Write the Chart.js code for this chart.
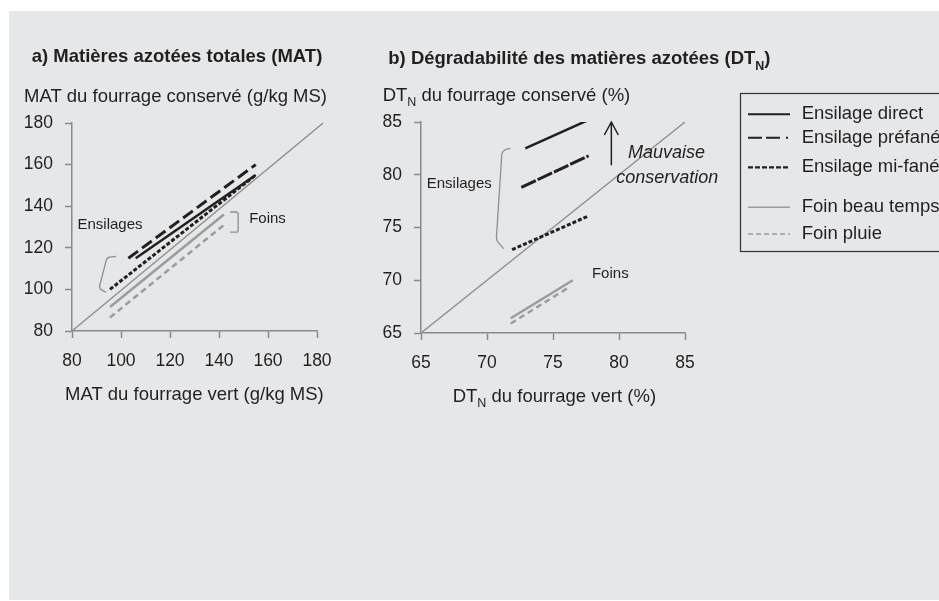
<!DOCTYPE html>
<html lang="fr">
<head>
<meta charset="utf-8">
<title>MAT et DTN des fourrages conservés</title>
<script src="https://cdn.jsdelivr.net/npm/chart.js@4.4.0/dist/chart.umd.min.js"></script>
<style>
  html, body { margin: 0; padding: 0; background: #fff; overflow: hidden; }
  #fond { position: absolute; left: 9px; top: 11px; width: 930px; height: 589px; background: #e6e7e8; }
  canvas { position: absolute; left: 0; top: 0; }
</style>
</head>
<body>
<div id="fond"></div>
<canvas id="graphA" width="939" height="601"></canvas>
<canvas id="graphB" width="939" height="601"></canvas>
<script>
// Données : chaque droite = [début, fin]
const noms = ['Ensilage direct', 'Ensilage préfané', 'Ensilage mi-fané', 'Foin beau temps', 'Foin pluie'];

// a) MAT (g/kg MS)
const matVert     = [[106, 155], [103, 155], [95.5, 155], [95.5, 142], [95.5, 142]];
const matConserve = [[115, 155], [115, 160], [100, 155], [91.5, 136], [86.5, 131]];
const matDiagX = [80, 182.5];
const matDiagY = [80, 180];
const matTicks = [80, 100, 120, 140, 160, 180];

// b) DTN (%)
const dtnVert     = [[72.9, 77.7], [72.6, 77.7], [71.9, 77.7], [71.8, 76.5], [71.8, 76.3]];
const dtnConserve = [[82.5, 85.2], [78.8, 81.8], [72.9, 76.1], [66.4, 70.0], [65.9, 69.4]];
const dtnDiagX = [65, 85];
const dtnDiagY = [65, 85];
const dtnTicks = [65, 70, 75, 80, 85];

const police = "'Liberation Sans', Arial, sans-serif";
const noir = '#231f20';
const grisAxe = '#8a8a8a';
const grisFoin = '#9c9c9c';

const styles = [
  { couleur: noir, largeur: 2.5, tirets: [] },
  { couleur: noir, largeur: 3, tirets: [12, 5] },
  { couleur: noir, largeur: 3, tirets: [4, 2] },
  { couleur: grisFoin, largeur: 2.5, tirets: [] },
  { couleur: grisFoin, largeur: 2.5, tirets: [6, 4] }
];

function jeuxDeDonnees(xs, ys, diagX, diagY, tiretsPrefane) {
  const jeux = noms.map((nom, i) => ({
    label: nom,
    data: xs[i].map((x, k) => ({ x: x, y: ys[i][k] })),
    showLine: true,
    pointRadius: 0,
    borderColor: styles[i].couleur,
    borderWidth: styles[i].largeur,
    borderDash: (i === 1 && tiretsPrefane) ? tiretsPrefane : styles[i].tirets,
    borderCapStyle: 'butt'
  }));
  // droite 1:1
  jeux.push({
    label: '1:1',
    data: diagX.map((x, k) => ({ x: x, y: diagY[k] })),
    showLine: true,
    pointRadius: 0,
    borderColor: '#8f8f8f',
    borderWidth: 1.5,
    clip: false
  });
  return jeux;
}

function axes(valeurs, largeurY) {
  const base = () => ({
    type: 'linear',
    min: valeurs[0],
    max: valeurs[valeurs.length - 1],
    grid: { drawOnChartArea: false, drawTicks: true, tickLength: 7, tickColor: grisAxe, tickWidth: 1.5 },
    border: { color: grisAxe, width: 1.5 },
    afterBuildTicks: s => { s.ticks = valeurs.map(v => ({ value: v })); }
  });
  const x = base();
  x.ticks = { color: noir, font: { family: police, size: 17.5 }, padding: 13, maxRotation: 0 };
  x.afterFit = s => { s.height = 50; };
  const y = base();
  y.ticks = { color: noir, font: { family: police, size: 17.5 }, padding: 12 };
  y.afterFit = s => { s.width = largeurY; };
  return { x: x, y: y };
}

// écrit une suite de morceaux [texte, police, décalage vertical] (pour les indices)
function ecrire(ctx, morceaux, x, y) {
  ctx.textAlign = 'left';
  ctx.textBaseline = 'alphabetic';
  ctx.fillStyle = noir;
  for (const [t, f, dy] of morceaux) {
    ctx.font = f + ' ' + police;
    ctx.fillText(t, x, y + (dy || 0));
    x += ctx.measureText(t).width;
  }
}

function centre(ctx, t, f, x, y) {
  ctx.font = f + ' ' + police;
  ctx.textAlign = 'center';
  ctx.textBaseline = 'middle';
  ctx.fillStyle = noir;
  ctx.fillText(t, x, y);
}

function accolade(ctx, pts, r) {
  ctx.beginPath();
  ctx.moveTo(pts[0][0], pts[0][1]);
  for (let i = 1; i < pts.length - 1; i++) {
    ctx.arcTo(pts[i][0], pts[i][1], pts[i + 1][0], pts[i + 1][1], r);
  }
  ctx.lineTo(pts[pts.length - 1][0], pts[pts.length - 1][1]);
  ctx.setLineDash([]);
  ctx.strokeStyle = '#8f8f8f';
  ctx.lineWidth = 1.3;
  ctx.stroke();
}

const annotA = {
  id: 'annotA',
  afterDraw(chart) {
    const ctx = chart.ctx;
    const X = v => chart.scales.x.getPixelForValue(v);
    const Y = v => chart.scales.y.getPixelForValue(v);
    ctx.save();
    ecrire(ctx, [['a) Matières azotées totales (MAT)', 'bold 18.5px']], 31.7, 61.7);
    ecrire(ctx, [['MAT du fourrage conservé (g/kg MS)', '18.5px']], 24, 101.7);
    ecrire(ctx, [['MAT du fourrage vert (g/kg MS)', '18.5px']], 65, 400);
    accolade(ctx, [[X(98), Y(115.9)], [X(94.3), Y(115.4)], [X(91), Y(100.5)], [X(93.9), Y(98.6)]], 4);
    accolade(ctx, [[X(144.5), Y(137.2)], [X(147.8), Y(137.2)], [X(147.8), Y(127.5)], [X(144.5), Y(127.5)]], 2);
    centre(ctx, 'Ensilages', '15px', X(95.5), Y(130.8));
    centre(ctx, 'Foins', '15px', X(159.8), Y(133.7));
    ctx.restore();
  }
};

const annotB = {
  id: 'annotB',
  afterDraw(chart) {
    const ctx = chart.ctx;
    const X = v => chart.scales.x.getPixelForValue(v);
    const Y = v => chart.scales.y.getPixelForValue(v);
    ctx.save();
    ecrire(ctx, [['b) Dégradabilité des matières azotées (DT', 'bold 18.5px'], ['N', 'bold 12.5px', 5.5], [')', 'bold 18.5px']], 388.3, 64);
    ecrire(ctx, [['DT', '18.5px'], ['N', '12.5px', 5], [' du fourrage conservé (%)', '18.5px']], 382.7, 101.3);
    ecrire(ctx, [['DT', '18.5px'], ['N', '12.5px', 5], [' du fourrage vert (%)', '18.5px']], 452.7, 402);
    accolade(ctx, [[X(71.77), Y(82.5)], [X(71.14), Y(82.3)], [X(70.7), Y(73.8)], [X(71.26), Y(73.0)]], 7);
    centre(ctx, 'Ensilages', '15px', X(67.9), Y(79.1));
    centre(ctx, 'Foins', '15px', X(79.34), Y(70.56));

    // flèche « mauvaise conservation »
    const xf = X(79.42), haut = Y(85), bas = Y(80.9);
    ctx.strokeStyle = noir;
    ctx.lineWidth = 1.5;
    ctx.setLineDash([]);
    ctx.beginPath();
    ctx.moveTo(xf, bas);
    ctx.lineTo(xf, haut);
    ctx.moveTo(xf - 7, haut + 13);
    ctx.lineTo(xf, haut);
    ctx.lineTo(xf + 7, haut + 13);
    ctx.stroke();
    centre(ctx, 'Mauvaise', 'italic 18px', X(83.6), Y(82.1));
    centre(ctx, 'conservation', 'italic 18px', X(83.66), Y(79.67));

    // légende
    ctx.strokeStyle = '#333';
    ctx.lineWidth = 1.2;
    ctx.strokeRect(740.5, 93.5, 300, 158);
    const lignesY = [114.3, 137.7, 167.3, 207.3, 234];
    const tiretsLeg = [[], [14, 4, 14, 6, 2, 100], [5, 2], [], [5, 3]];
    const largLeg = [2, 2, 2.2, 1.5, 1.3];
    noms.forEach((nom, i) => {
      ctx.beginPath();
      ctx.setLineDash(tiretsLeg[i]);
      ctx.strokeStyle = styles[i].couleur;
      ctx.lineWidth = largLeg[i];
      ctx.moveTo(748, lignesY[i]);
      ctx.lineTo(790, lignesY[i]);
      ctx.stroke();
      ctx.setLineDash([]);
      ctx.font = '18.5px ' + police;
      ctx.textAlign = 'left';
      ctx.textBaseline = 'middle';
      ctx.fillStyle = noir;
      ctx.fillText(nom, 801.7, lignesY[i]);
    });
    ctx.restore();
  }
};

const optionsCommunes = (padding, echelles) => ({
  responsive: false,
  animation: false,
  layout: { padding: padding },
  scales: echelles,
  plugins: { legend: { display: false }, tooltip: { enabled: false } }
});

new Chart(document.getElementById('graphA'), {
  type: 'scatter',
  data: { datasets: jeuxDeDonnees(matVert, matConserve, matDiagX, matDiagY) },
  options: optionsCommunes({ left: 0, top: 123, right: 622, bottom: 220 }, axes(matTicks, 72)),
  plugins: [annotA]
});

new Chart(document.getElementById('graphB'), {
  type: 'scatter',
  data: { datasets: jeuxDeDonnees(dtnVert, dtnConserve, dtnDiagX, dtnDiagY, [16, 2]) },
  options: optionsCommunes({ left: 0, top: 122, right: 254, bottom: 218 }, axes(dtnTicks, 421)),
  plugins: [annotB]
});
</script>
</body>
</html>
